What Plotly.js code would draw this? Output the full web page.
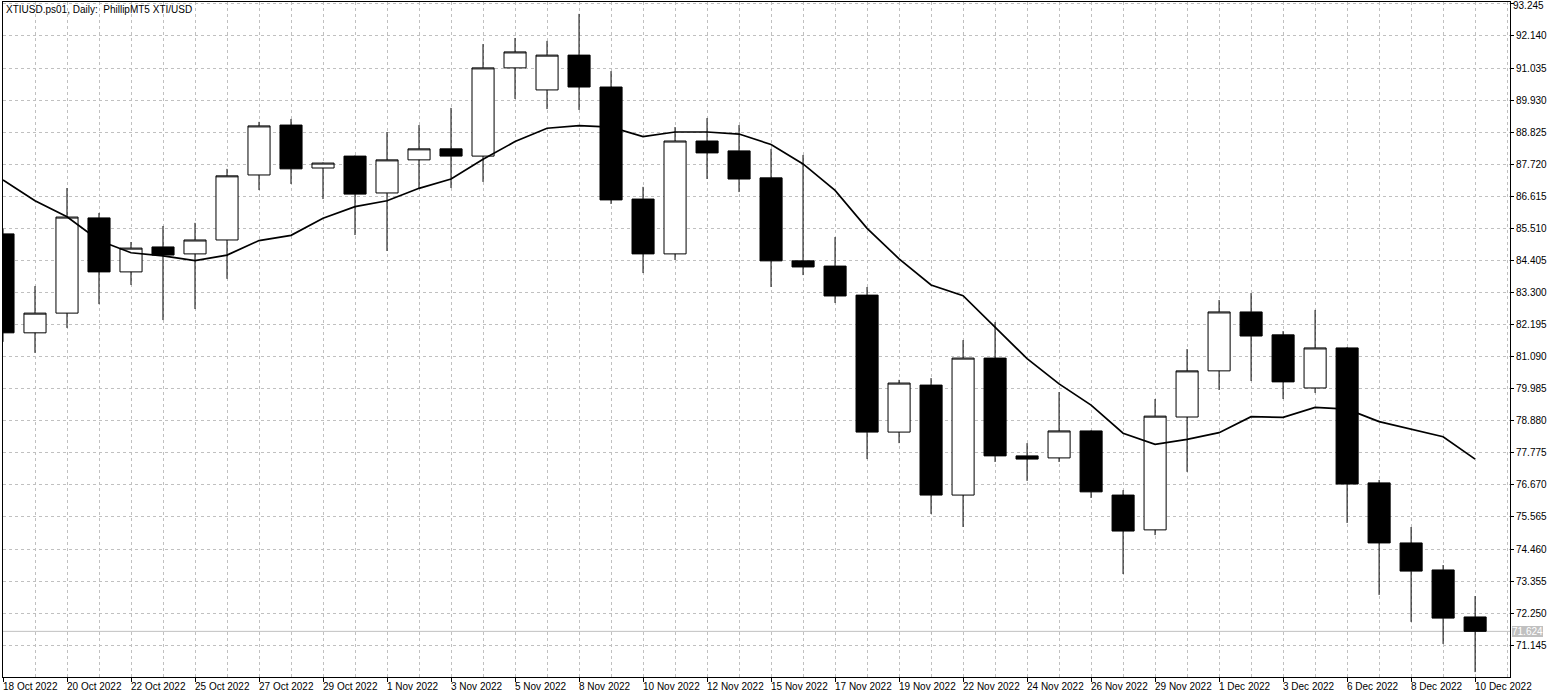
<!DOCTYPE html>
<html>
<head>
<meta charset="utf-8">
<script src="https://cdn.plot.ly/plotly-3.0.1.min.js"></script>
<style>
  html, body { margin: 0; padding: 0; background: #ffffff; }
  #chart { width: 1558px; height: 698px; }
</style>
</head>
<body>
<div id="chart"></div>
<script>
// ---- data ----
const chartTitle = "XTIUSD.ps01, Daily:  PhillipMT5 XTI/USD";

const dayLabels = ["18 Oct 2022","19 Oct 2022","20 Oct 2022","21 Oct 2022","22 Oct 2022","24 Oct 2022",
  "25 Oct 2022","26 Oct 2022","27 Oct 2022","28 Oct 2022","29 Oct 2022","31 Oct 2022",
  "1 Nov 2022","2 Nov 2022","3 Nov 2022","4 Nov 2022","5 Nov 2022","7 Nov 2022",
  "8 Nov 2022","9 Nov 2022","10 Nov 2022","11 Nov 2022","12 Nov 2022","14 Nov 2022",
  "15 Nov 2022","16 Nov 2022","17 Nov 2022","18 Nov 2022","19 Nov 2022","21 Nov 2022",
  "22 Nov 2022","23 Nov 2022","24 Nov 2022","25 Nov 2022","26 Nov 2022","28 Nov 2022",
  "29 Nov 2022","30 Nov 2022","1 Dec 2022","2 Dec 2022","3 Dec 2022","5 Dec 2022",
  "6 Dec 2022","7 Dec 2022","8 Dec 2022","9 Dec 2022","10 Dec 2022"];

const openP  = [85.32,81.91,82.59,85.87,84.01,84.87,84.63,85.11,87.35,89.07,87.59,88.00,86.73,87.87,88.25,88.00,
  91.04,90.28,91.48,90.38,86.52,84.63,88.52,88.18,87.25,84.39,84.21,83.21,78.49,80.11,76.32,81.04,
  77.67,77.60,78.53,76.32,75.12,79.01,80.60,82.63,81.84,80.01,81.39,76.74,74.67,73.74,72.12];
const highP  = [85.50,83.52,86.90,86.04,85.04,85.59,85.70,87.56,89.18,89.28,87.78,88.02,88.83,89.07,89.66,91.86,
  92.07,91.97,92.90,90.93,86.94,89.00,89.31,89.07,88.25,88.04,85.21,83.49,80.29,80.35,81.66,82.28,
  78.11,79.87,78.55,76.49,79.63,81.35,83.04,83.28,81.97,82.70,81.42,76.84,75.22,73.91,72.84];
const lowP   = [81.60,81.22,82.08,82.90,83.56,82.35,82.73,83.77,86.83,87.04,86.52,85.28,84.73,86.87,86.90,87.11,
  89.97,89.62,89.59,86.35,83.97,84.42,87.21,86.76,83.49,83.90,82.94,77.56,78.11,75.67,75.22,77.46,
  76.81,77.46,76.22,73.60,74.94,77.12,79.94,80.25,79.63,79.84,75.36,72.88,71.95,71.19,70.22];
const closeP = [81.91,82.59,85.90,84.01,84.83,84.59,85.11,87.32,89.04,87.56,87.76,86.69,87.87,88.25,88.00,91.04,
  91.59,91.48,90.38,86.49,84.63,88.52,88.11,87.21,84.39,84.18,83.18,78.49,80.18,76.32,81.04,77.67,
  77.56,78.53,76.43,75.08,79.04,80.60,82.63,81.80,80.22,81.39,76.70,74.67,73.70,72.08,71.624];

const maLine = [87.18,86.46,85.91,85.09,84.67,84.56,84.40,84.59,85.09,85.27,85.86,86.26,86.46,86.89,87.21,87.89,
  88.50,88.96,89.05,89.00,88.67,88.83,88.83,88.76,88.40,87.73,86.82,85.51,84.46,83.56,83.19,82.10,
  81.02,80.15,79.42,78.45,78.07,78.24,78.47,79.02,79.00,79.34,79.28,78.85,78.60,78.33,77.56];

const priceTicks = [71.145,72.250,73.355,74.460,75.565,76.670,77.775,78.880,79.985,81.090,82.195,
  83.300,84.405,85.510,86.615,87.720,88.825,89.930,91.035,92.140,93.245];

// ---- build ----
const idx = dayLabels.map((d, i) => i);
const labelIdx = idx.filter(i => i % 2 === 0);
const lastClose = closeP[closeP.length - 1];
const topTick = priceTicks[priceTicks.length - 1];

const FONT = "Liberation Sans, Arial, sans-serif";
const GRID = "#c0c0c0";

const traces = [
  {
    type: "candlestick",
    x: idx, open: openP, high: highP, low: lowP, close: closeP,
    text: dayLabels,
    whiskerwidth: 0,
    increasing: { line: { color: "#000000", width: 1 }, fillcolor: "#ffffff" },
    decreasing: { line: { color: "#000000", width: 1 }, fillcolor: "#000000" },
    showlegend: false,
    hoverinfo: "text+y"
  },
  {
    type: "scatter", mode: "lines",
    x: idx, y: maLine,
    line: { color: "#000000", width: 1.7 },
    showlegend: false, hoverinfo: "skip"
  }
];

const annotations = [
  {
    xref: "paper", yref: "paper", x: 0, y: 1, xanchor: "left", yanchor: "top",
    xshift: 1, yshift: 0,
    text: chartTitle, showarrow: false,
    font: { family: FONT, size: 10, color: "#000000" }
  },
  {
    // top price label, kept inside the picture
    xref: "paper", yref: "paper", x: 1, y: 1, xanchor: "left", yanchor: "top",
    xshift: 3, yshift: 2,
    text: topTick.toFixed(3), showarrow: false,
    borderpad: 0, borderwidth: 0,
    font: { family: FONT, size: 10, color: "#000000" }
  },
  {
    xref: "paper", yref: "y", x: 1, y: lastClose, xanchor: "left", yanchor: "middle",
    xshift: 2,
    text: lastClose.toFixed(3), showarrow: false,
    bgcolor: GRID, borderpad: 0, borderwidth: 0,
    font: { family: FONT, size: 10, color: "#ffffff" }
  }
];
labelIdx.forEach(i => {
  annotations.push({
    xref: "x", yref: "paper", x: i, y: 0, xanchor: "left", yanchor: "top",
    xshift: -2, yshift: -2,
    text: dayLabels[i], showarrow: false,
    font: { family: FONT, size: 10, color: "#000000" }
  });
});

const layout = {
  width: 1558, height: 698,
  margin: { l: 3, r: 48, t: 2, b: 21, pad: 0 },
  paper_bgcolor: "#ffffff", plot_bgcolor: "#ffffff",
  font: { family: FONT, size: 10, color: "#000000" },
  boxgap: 0.31, boxgroupgap: 0,
  showlegend: false,
  hovermode: "closest",
  xaxis: {
    type: "linear",
    range: [0, 47.09],
    fixedrange: true,
    rangeslider: { visible: false },
    tickmode: "array", tickvals: labelIdx, ticktext: labelIdx.map(i => ""),
    showticklabels: false,
    ticks: "outside", ticklen: 4, tickcolor: "#000000", tickwidth: 1,
    showgrid: true, gridcolor: GRID, griddash: "3px,3px", gridwidth: 1,
    minor: { tickmode: "linear", tick0: 0, dtick: 1, showgrid: true, gridcolor: GRID, griddash: "3px,3px", gridwidth: 1, ticks: "" },
    showline: true, linecolor: "#000000", linewidth: 1, mirror: true,
    zeroline: false
  },
  yaxis: {
    side: "right",
    range: [70.051, 93.310],
    fixedrange: true,
    tickmode: "array", tickvals: priceTicks,
    ticktext: priceTicks.map(v => (v === topTick ? "" : v.toFixed(3))),
    ticks: "outside", ticklen: 3, tickcolor: "#000000", tickwidth: 1,
    tickfont: { family: FONT, size: 10, color: "#000000" },
    showgrid: true, gridcolor: GRID, griddash: "3px,3px", gridwidth: 1,
    showline: true, linecolor: "#000000", linewidth: 1, mirror: true,
    zeroline: false
  },
  shapes: [
    {
      type: "line", xref: "paper", yref: "y", x0: 0, x1: 1, y0: lastClose, y1: lastClose,
      line: { color: GRID, width: 1 }, layer: "below"
    }
  ],
  annotations: annotations
};

Plotly.newPlot("chart", traces, layout, { displayModeBar: false, staticPlot: false });
</script>
</body>
</html>
